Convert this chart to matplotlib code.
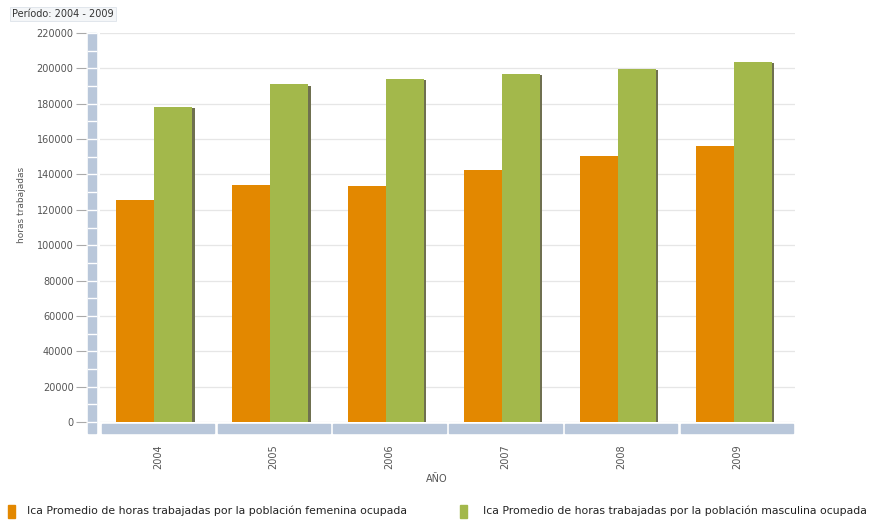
import matplotlib.pyplot as plt
from matplotlib.patches import Rectangle
import matplotlib.transforms as mtransforms

years = ["2004", "2005", "2006", "2007", "2008", "2009"]
femenina = [125800, 134300, 133300, 142800, 150700, 156000]
masculina = [178300, 190900, 194200, 196600, 199800, 203800]
yticks = list(range(0, 220001, 20000))

ORANGE = "#E38800"
GREEN = "#A3B84B"
BAND = "#B9C7DA"
TXT = "#555555"


def main():
    fig = plt.figure(figsize=(8.78, 5.2), dpi=100)
    ax = fig.add_axes([100 / 878, 98 / 520, 695 / 878, 389 / 520])
    for s in ax.spines.values():
        s.set_visible(False)
    ax.spines["left"].set_position(("outward", 10))

    x = list(range(len(years)))
    w = 0.328
    off = 0.03
    xo = [i - off - w / 2 for i in x]
    xg = [i - off + w / 2 for i in x]

    # shadows
    ax.bar([v + 0.02 for v in xg], [v - 600 for v in masculina], width=w,
           color="#6f7050", zorder=2)
    ax.bar([v + 0.02 for v in xo], [v - 600 for v in femenina], width=w,
           color="#6f7050", zorder=2)
    ax.bar(xo, femenina, width=w, color=ORANGE, zorder=3)
    ax.bar(xg, masculina, width=w, color=GREEN, zorder=3)

    ax.set_xlim(-0.5, 5.5)
    ax.set_ylim(0, 220000)
    ax.set_yticks(yticks)
    ax.set_yticklabels([str(v) for v in yticks])
    ax.set_xticks(x)
    ax.set_xticklabels(years, rotation=90)
    ax.tick_params(axis="x", length=0, pad=16, labelsize=7, labelcolor=TXT)
    ax.tick_params(axis="y", length=7, width=0.8, color="#aaaaaa", pad=2,
                   labelsize=7, labelcolor=TXT)
    ax.grid(axis="y", color="#e6e6e6", lw=0.9, zorder=0)
    ax.set_axisbelow(True)

    # x-axis band segments
    trans = mtransforms.blended_transform_factory(ax.transData, ax.transAxes)
    for i in x:
        ax.add_patch(Rectangle((i - 0.485, -0.027), 0.97, 0.021,
                               transform=trans, color=BAND, clip_on=False,
                               zorder=1))
    # y-axis band with separators
    ax.add_patch(Rectangle((-0.0175, -0.027), 0.0118, 1.027,
                           transform=ax.transAxes, color=BAND, clip_on=False,
                           zorder=1))
    for v in range(0, 220001, 10000):
        ax.plot([-0.0175, -0.0057], [v / 220000, v / 220000],
                transform=ax.transAxes, color="white", lw=1.0,
                clip_on=False, zorder=1.5)

    fig.text(22 / 878, 1 - 205 / 520, "horas trabajadas", rotation=90,
             ha="center", va="center", fontsize=6.5, color=TXT)
    fig.text(437 / 878, 1 - 479 / 520, "AÑO", ha="center", va="center",
             fontsize=7, color=TXT)
    fig.text(12 / 878, 1 - 14 / 520, "Período: 2004 - 2009", ha="left",
             va="center", fontsize=7, color="#333333",
             bbox=dict(boxstyle="square,pad=0.25", fc="#f4f6f8",
                       ec="#dde3ea", lw=0.6))

    # legend
    fig.patches.append(Rectangle((8 / 878, 1 - 518 / 520), 7 / 878, 13 / 520,
                                 transform=fig.transFigure, color=ORANGE))
    fig.text(27 / 878, 1 - 511 / 520,
             "Ica Promedio de horas trabajadas por la población femenina ocupada",
             ha="left", va="center", fontsize=7.8, color="#222222")
    fig.patches.append(Rectangle((460 / 878, 1 - 518 / 520), 7 / 878, 13 / 520,
                                 transform=fig.transFigure, color=GREEN))
    fig.text(483 / 878, 1 - 511 / 520,
             "Ica Promedio de horas trabajadas por la población masculina ocupada",
             ha="left", va="center", fontsize=7.8, color="#222222")

    fig.savefig("out.png", dpi=100)


if __name__ == "__main__":
    main()
